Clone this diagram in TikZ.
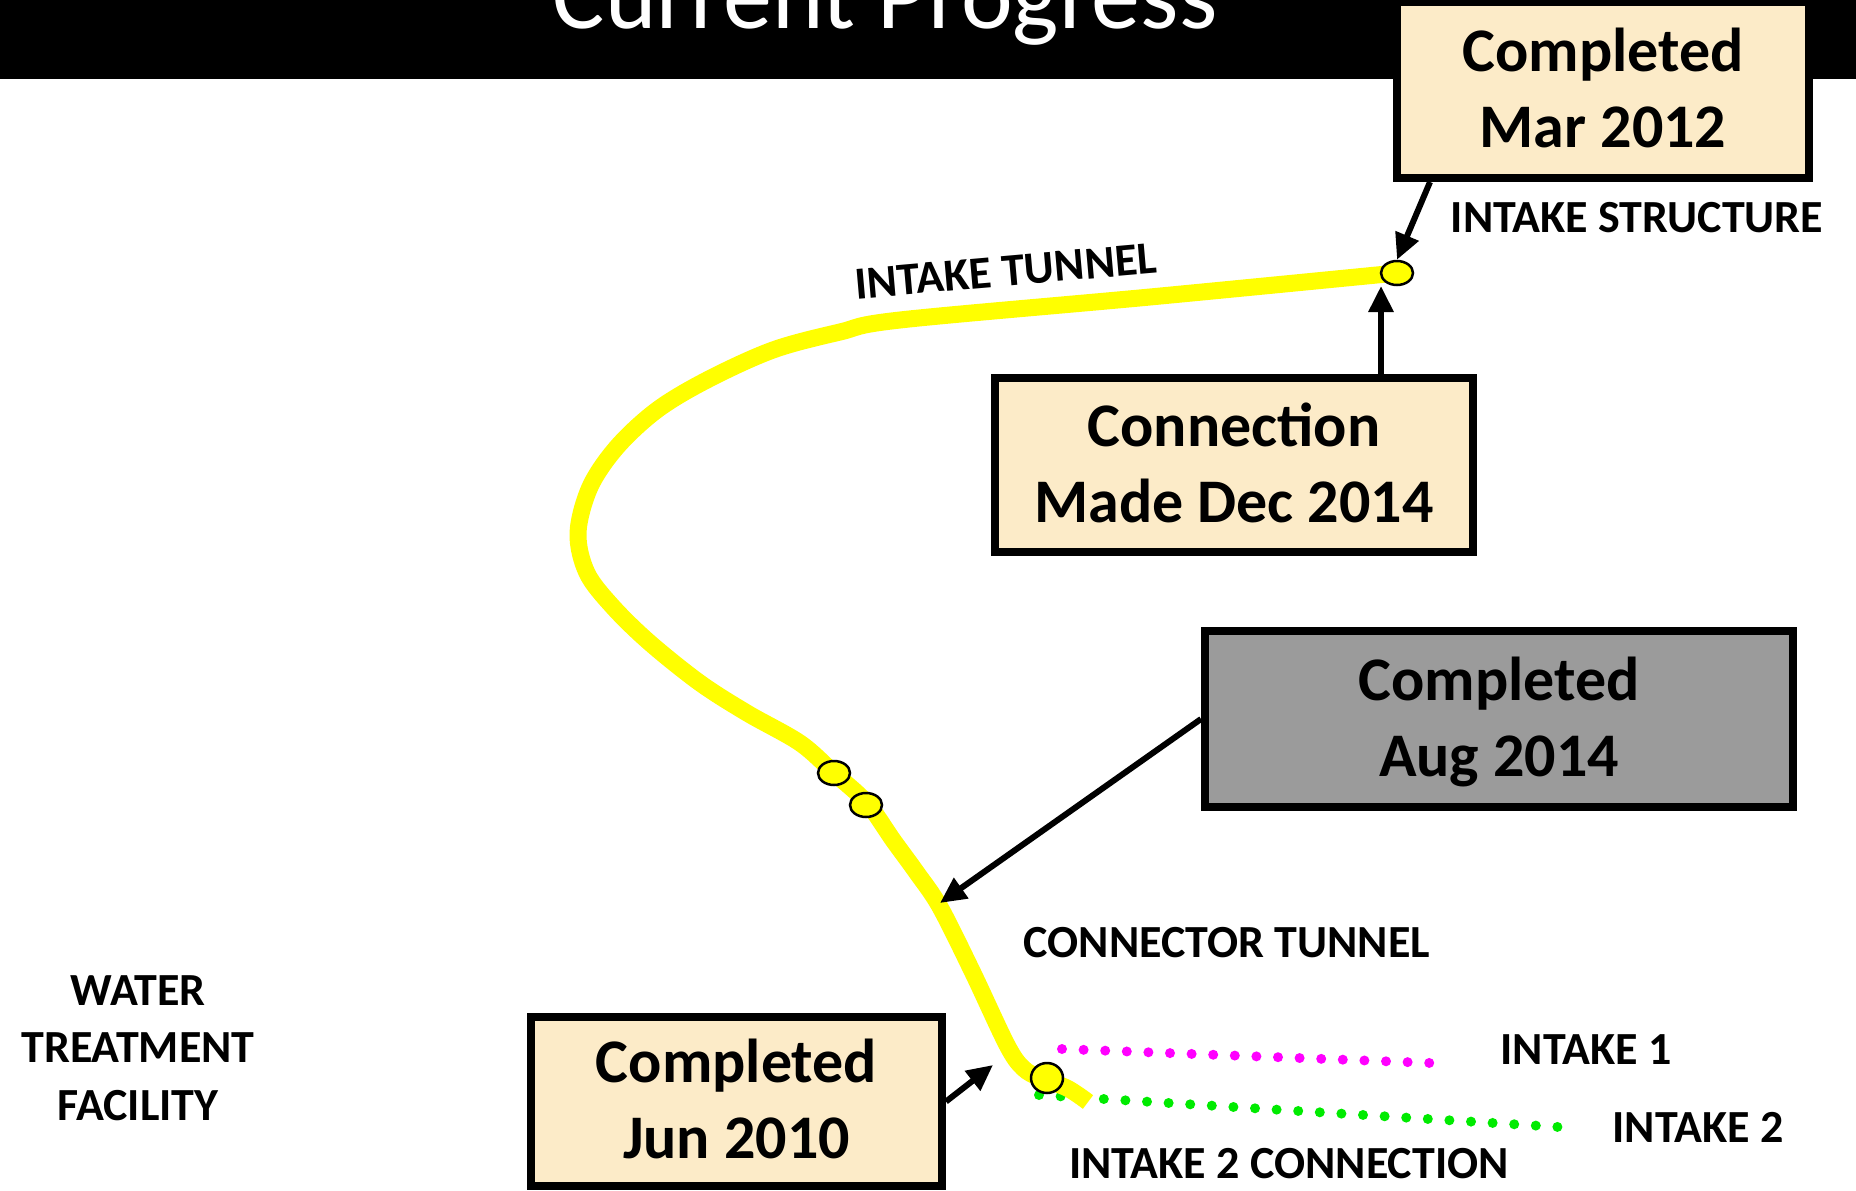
\documentclass[tikz,border=0pt]{standalone}
\usepackage{fontspec}
\setmainfont{Carlito}
\usetikzlibrary{arrows.meta,shapes.geometric}
\definecolor{boxbeige}{RGB}{252,235,200}
\definecolor{boxgray}{RGB}{155,155,155}
\definecolor{tunnelyellow}{RGB}{255,255,0}
\definecolor{dotmagenta}{RGB}{255,0,255}
\definecolor{dotgreen}{RGB}{0,235,0}
\newcommand{\bxstrut}{\rule[-14pt]{0pt}{66pt}}
\begin{document}
\begin{tikzpicture}[x=1pt,y=-1pt,
  statusbox/.style={draw=black, line width=8pt, fill=boxbeige, align=center,
    font=\bfseries\fontsize{62}{76}\selectfont, inner sep=0pt},
  lbl/.style={font=\bfseries\fontsize{46}{57.5}\selectfont, inner sep=0pt},
  shaftnode/.style={ellipse, draw=black, line width=2.5pt, fill=tunnelyellow,
    minimum width=32pt, minimum height=24pt, inner sep=0pt},
  arr/.style={line width=6pt, -{Triangle[length=26pt,width=24pt]}},
  tunnel/.style={line width=17pt, draw=tunnelyellow},
]
\useasboundingbox (0,0) rectangle (1856,1191);
\clip (0,0) rectangle (1856,1191);
% header
\fill[black] (0,0) rectangle (1856,79);
\node[font=\fontsize{98}{110}\selectfont, text=white, anchor=base, inner sep=0pt] (title) at (885,28) {Current Progress};
% intake dots
\foreach \i in {0,...,17} \fill[dotmagenta] ({1062+\i*21.6},{1049+\i*0.82}) circle (5pt);
\foreach \i in {0,...,24} \fill[dotgreen] ({1039+\i*21.6},{1095+\i*1.33}) circle (5pt);
% tunnel
\draw[tunnel] plot[smooth, tension=0.55] coordinates {(1397,273) (1150,297) (900,320) (840,332) (773,350) (707,380) (657,410) (617,447) (590,487) (578,533) (587,573) (613,607) (650,643) (700,683) (747,713) (800,743) (834,773) (867,803) (893,840) (917,873) (940,907) (973,973) (1007,1045) (1023,1068) (1040,1078) (1067,1088) (1088,1102)};
% shafts
\node[shaftnode] (e1) at (1397,273) {};
\node[shaftnode] (e2) at (834,773) {};
\node[shaftnode] (e3) at (866,805) {};
\node[shaftnode, minimum height=30pt] (e4) at (1047,1078) {};
% boxes
\node[statusbox, minimum width=412pt, minimum height=176pt] (b1) at (1603,90) {\bxstrut Completed\\\bxstrut Mar 2012};
\node[statusbox, minimum width=478pt, minimum height=174pt] (b2) at (1234,465) {\bxstrut Connection\\\bxstrut Made Dec 2014};
\node[statusbox, fill=boxgray, minimum width=588pt, minimum height=176pt] (b3) at (1499,719) {\bxstrut Completed\\\bxstrut Aug 2014};
\node[statusbox, minimum width=411pt, minimum height=169pt] (b4) at (736.5,1101.5) {\bxstrut Completed\\\bxstrut Jun 2010};
% labels
\node[lbl, anchor=base] (lstruct) at (1637,232) {INTAKE STRUCTURE};
\node[lbl, anchor=base, rotate=5] (ltunnel) at (1007,286) {INTAKE TUNNEL};
\node[lbl, anchor=base] (lconn) at (1227,957) {CONNECTOR TUNNEL};
\node[lbl, align=center] (lwtf) at (138,1048) {WATER\\TREATMENT\\FACILITY};
\node[lbl, anchor=base] (li1) at (1586,1064) {INTAKE 1};
\node[lbl, anchor=base] (li2) at (1698,1142) {INTAKE 2};
\node[lbl, anchor=base] (li2c) at (1289,1178) {INTAKE 2 CONNECTION};
% arrows
\coordinate (t2) at (1381,286);
\coordinate (t3) at (940,903);
\coordinate (t4) at (993,1065);
\draw[arr] ([xshift=-173pt]b1.south) -- (e1.north);
\draw[arr] (b2.north -| t2) -- (t2);
\draw[arr] (b3.west) -- (t3);
\draw[arr] (b4.east) -- (t4);
\end{tikzpicture}
\end{document}
